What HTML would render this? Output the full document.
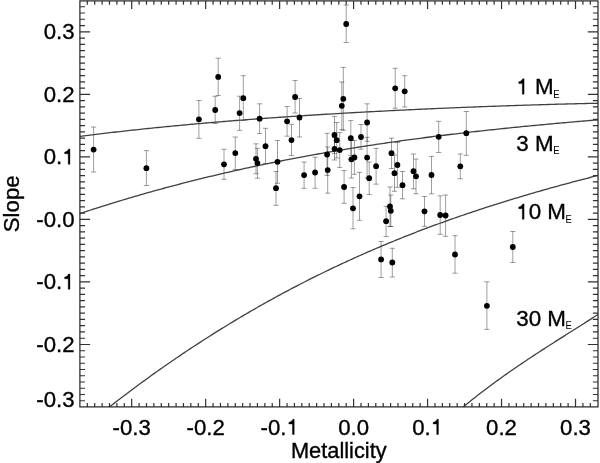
<!DOCTYPE html><html><head><meta charset="utf-8"><style>html,body{margin:0;padding:0;background:#fff;}svg{display:block;will-change:transform;}text{font-family:"Liberation Sans",sans-serif;stroke:#000;stroke-width:0.35px;paint-order:stroke;}</style></head><body>
<svg width="600" height="463" viewBox="0 0 600 463">
<rect width="600" height="463" fill="#fff"/>
<defs><clipPath id="c"><rect x="79.9" y="0.9" width="518.1" height="406.0"/></clipPath></defs>
<path d="M93.6,127.0V172.0M91.0,127.0h5.2M91.0,172.0h5.2" stroke="#000" stroke-opacity="0.38" stroke-width="1.0" fill="none"/>
<path d="M146.4,150.6V185.5M143.8,150.6h5.2M143.8,185.5h5.2" stroke="#000" stroke-opacity="0.38" stroke-width="1.0" fill="none"/>
<path d="M198.9,100.5V138.3M196.3,100.5h5.2M196.3,138.3h5.2" stroke="#000" stroke-opacity="0.38" stroke-width="1.0" fill="none"/>
<path d="M215.2,96.3V123.5M212.6,96.3h5.2M212.6,123.5h5.2" stroke="#000" stroke-opacity="0.38" stroke-width="1.0" fill="none"/>
<path d="M218.2,58.2V95.5M215.6,58.2h5.2M215.6,95.5h5.2" stroke="#000" stroke-opacity="0.38" stroke-width="1.0" fill="none"/>
<path d="M239.6,96.2V130.3M237.0,96.2h5.2M237.0,130.3h5.2" stroke="#000" stroke-opacity="0.38" stroke-width="1.0" fill="none"/>
<path d="M243.3,75.7V120.5M240.7,75.7h5.2M240.7,120.5h5.2" stroke="#000" stroke-opacity="0.38" stroke-width="1.0" fill="none"/>
<path d="M259.6,103.8V133.5M257.0,103.8h5.2M257.0,133.5h5.2" stroke="#000" stroke-opacity="0.38" stroke-width="1.0" fill="none"/>
<path d="M295.1,80.5V113.0M292.5,80.5h5.2M292.5,113.0h5.2" stroke="#000" stroke-opacity="0.38" stroke-width="1.0" fill="none"/>
<path d="M287.1,106.5V136.2M284.5,106.5h5.2M284.5,136.2h5.2" stroke="#000" stroke-opacity="0.38" stroke-width="1.0" fill="none"/>
<path d="M299.5,98.4V137.0M296.9,98.4h5.2M296.9,137.0h5.2" stroke="#000" stroke-opacity="0.38" stroke-width="1.0" fill="none"/>
<path d="M291.5,124.3V155.5M288.9,124.3h5.2M288.9,155.5h5.2" stroke="#000" stroke-opacity="0.38" stroke-width="1.0" fill="none"/>
<path d="M265.5,128.3V163.5M262.9,128.3h5.2M262.9,163.5h5.2" stroke="#000" stroke-opacity="0.38" stroke-width="1.0" fill="none"/>
<path d="M235.3,137.0V169.5M232.7,137.0h5.2M232.7,169.5h5.2" stroke="#000" stroke-opacity="0.38" stroke-width="1.0" fill="none"/>
<path d="M224.0,149.3V179.3M221.4,149.3h5.2M221.4,179.3h5.2" stroke="#000" stroke-opacity="0.38" stroke-width="1.0" fill="none"/>
<path d="M256.0,143.8V173.8M253.4,143.8h5.2M253.4,173.8h5.2" stroke="#000" stroke-opacity="0.38" stroke-width="1.0" fill="none"/>
<path d="M257.4,148.3V178.2M254.8,148.3h5.2M254.8,178.2h5.2" stroke="#000" stroke-opacity="0.38" stroke-width="1.0" fill="none"/>
<path d="M277.5,140.5V183.3M274.9,140.5h5.2M274.9,183.3h5.2" stroke="#000" stroke-opacity="0.38" stroke-width="1.0" fill="none"/>
<path d="M304.1,162.1V188.3M301.5,162.1h5.2M301.5,188.3h5.2" stroke="#000" stroke-opacity="0.38" stroke-width="1.0" fill="none"/>
<path d="M315.1,157.2V188.3M312.5,157.2h5.2M312.5,188.3h5.2" stroke="#000" stroke-opacity="0.38" stroke-width="1.0" fill="none"/>
<path d="M276.0,171.5V205.3M273.4,171.5h5.2M273.4,205.3h5.2" stroke="#000" stroke-opacity="0.38" stroke-width="1.0" fill="none"/>
<path d="M346.2,5.0V42.5M343.6,5.0h5.2M343.6,42.5h5.2" stroke="#000" stroke-opacity="0.38" stroke-width="1.0" fill="none"/>
<path d="M343.3,67.4V130.2M340.7,67.4h5.2M340.7,130.2h5.2" stroke="#000" stroke-opacity="0.38" stroke-width="1.0" fill="none"/>
<path d="M341.8,82.0V129.7M339.2,82.0h5.2M339.2,129.7h5.2" stroke="#000" stroke-opacity="0.38" stroke-width="1.0" fill="none"/>
<path d="M367.1,103.8V141.3M364.5,103.8h5.2M364.5,141.3h5.2" stroke="#000" stroke-opacity="0.38" stroke-width="1.0" fill="none"/>
<path d="M334.5,116.4V153.6M331.9,116.4h5.2M331.9,153.6h5.2" stroke="#000" stroke-opacity="0.38" stroke-width="1.0" fill="none"/>
<path d="M336.7,122.5V158.0M334.1,122.5h5.2M334.1,158.0h5.2" stroke="#000" stroke-opacity="0.38" stroke-width="1.0" fill="none"/>
<path d="M350.8,120.6V155.6M348.2,120.6h5.2M348.2,155.6h5.2" stroke="#000" stroke-opacity="0.38" stroke-width="1.0" fill="none"/>
<path d="M361.0,124.5V149.2M358.4,124.5h5.2M358.4,149.2h5.2" stroke="#000" stroke-opacity="0.38" stroke-width="1.0" fill="none"/>
<path d="M327.1,133.3V175.4M324.5,133.3h5.2M324.5,175.4h5.2" stroke="#000" stroke-opacity="0.38" stroke-width="1.0" fill="none"/>
<path d="M327.7,147.0V193.2M325.1,147.0h5.2M325.1,193.2h5.2" stroke="#000" stroke-opacity="0.38" stroke-width="1.0" fill="none"/>
<path d="M334.5,137.6V160.0M331.9,137.6h5.2M331.9,160.0h5.2" stroke="#000" stroke-opacity="0.38" stroke-width="1.0" fill="none"/>
<path d="M339.7,132.6V167.4M337.1,132.6h5.2M337.1,167.4h5.2" stroke="#000" stroke-opacity="0.38" stroke-width="1.0" fill="none"/>
<path d="M351.4,140.5V178.0M348.8,140.5h5.2M348.8,178.0h5.2" stroke="#000" stroke-opacity="0.38" stroke-width="1.0" fill="none"/>
<path d="M354.4,140.4V174.3M351.8,140.4h5.2M351.8,174.3h5.2" stroke="#000" stroke-opacity="0.38" stroke-width="1.0" fill="none"/>
<path d="M367.1,137.3V178.0M364.5,137.3h5.2M364.5,178.0h5.2" stroke="#000" stroke-opacity="0.38" stroke-width="1.0" fill="none"/>
<path d="M369.2,162.0V194.5M366.6,162.0h5.2M366.6,194.5h5.2" stroke="#000" stroke-opacity="0.38" stroke-width="1.0" fill="none"/>
<path d="M376.1,148.4V184.2M373.5,148.4h5.2M373.5,184.2h5.2" stroke="#000" stroke-opacity="0.38" stroke-width="1.0" fill="none"/>
<path d="M344.1,170.6V203.3M341.5,170.6h5.2M341.5,203.3h5.2" stroke="#000" stroke-opacity="0.38" stroke-width="1.0" fill="none"/>
<path d="M359.5,172.3V220.3M356.9,172.3h5.2M356.9,220.3h5.2" stroke="#000" stroke-opacity="0.38" stroke-width="1.0" fill="none"/>
<path d="M353.0,187.6V228.8M350.4,187.6h5.2M350.4,228.8h5.2" stroke="#000" stroke-opacity="0.38" stroke-width="1.0" fill="none"/>
<path d="M395.2,68.3V108.2M392.6,68.3h5.2M392.6,108.2h5.2" stroke="#000" stroke-opacity="0.38" stroke-width="1.0" fill="none"/>
<path d="M404.7,75.7V107.0M402.1,75.7h5.2M402.1,107.0h5.2" stroke="#000" stroke-opacity="0.38" stroke-width="1.0" fill="none"/>
<path d="M391.5,138.2V168.5M388.9,138.2h5.2M388.9,168.5h5.2" stroke="#000" stroke-opacity="0.38" stroke-width="1.0" fill="none"/>
<path d="M397.4,142.5V187.3M394.8,142.5h5.2M394.8,187.3h5.2" stroke="#000" stroke-opacity="0.38" stroke-width="1.0" fill="none"/>
<path d="M394.5,155.0V191.3M391.9,155.0h5.2M391.9,191.3h5.2" stroke="#000" stroke-opacity="0.38" stroke-width="1.0" fill="none"/>
<path d="M413.5,154.0V188.8M410.9,154.0h5.2M410.9,188.8h5.2" stroke="#000" stroke-opacity="0.38" stroke-width="1.0" fill="none"/>
<path d="M416.0,159.0V193.8M413.4,159.0h5.2M413.4,193.8h5.2" stroke="#000" stroke-opacity="0.38" stroke-width="1.0" fill="none"/>
<path d="M431.5,156.4V193.8M428.9,156.4h5.2M428.9,193.8h5.2" stroke="#000" stroke-opacity="0.38" stroke-width="1.0" fill="none"/>
<path d="M402.5,171.5V198.8M399.9,171.5h5.2M399.9,198.8h5.2" stroke="#000" stroke-opacity="0.38" stroke-width="1.0" fill="none"/>
<path d="M390.0,187.0V226.5M387.4,187.0h5.2M387.4,226.5h5.2" stroke="#000" stroke-opacity="0.38" stroke-width="1.0" fill="none"/>
<path d="M390.8,195.0V226.5M388.2,195.0h5.2M388.2,226.5h5.2" stroke="#000" stroke-opacity="0.38" stroke-width="1.0" fill="none"/>
<path d="M386.1,206.3V236.5M383.5,206.3h5.2M383.5,236.5h5.2" stroke="#000" stroke-opacity="0.38" stroke-width="1.0" fill="none"/>
<path d="M424.5,196.5V226.3M421.9,196.5h5.2M421.9,226.3h5.2" stroke="#000" stroke-opacity="0.38" stroke-width="1.0" fill="none"/>
<path d="M381.1,241.5V277.5M378.5,241.5h5.2M378.5,277.5h5.2" stroke="#000" stroke-opacity="0.38" stroke-width="1.0" fill="none"/>
<path d="M392.3,248.3V277.0M389.7,248.3h5.2M389.7,277.0h5.2" stroke="#000" stroke-opacity="0.38" stroke-width="1.0" fill="none"/>
<path d="M438.7,121.3V152.5M436.1,121.3h5.2M436.1,152.5h5.2" stroke="#000" stroke-opacity="0.38" stroke-width="1.0" fill="none"/>
<path d="M466.3,111.5V155.3M463.7,111.5h5.2M463.7,155.3h5.2" stroke="#000" stroke-opacity="0.38" stroke-width="1.0" fill="none"/>
<path d="M460.3,154.0V178.8M457.7,154.0h5.2M457.7,178.8h5.2" stroke="#000" stroke-opacity="0.38" stroke-width="1.0" fill="none"/>
<path d="M440.2,195.8V234.3M437.6,195.8h5.2M437.6,234.3h5.2" stroke="#000" stroke-opacity="0.38" stroke-width="1.0" fill="none"/>
<path d="M445.6,195.0V236.3M443.0,195.0h5.2M443.0,236.3h5.2" stroke="#000" stroke-opacity="0.38" stroke-width="1.0" fill="none"/>
<path d="M455.0,235.7V273.2M452.4,235.7h5.2M452.4,273.2h5.2" stroke="#000" stroke-opacity="0.38" stroke-width="1.0" fill="none"/>
<path d="M486.9,281.8V329.4M484.3,281.8h5.2M484.3,329.4h5.2" stroke="#000" stroke-opacity="0.38" stroke-width="1.0" fill="none"/>
<path d="M512.8,231.5V262.5M510.2,231.5h5.2M510.2,262.5h5.2" stroke="#000" stroke-opacity="0.38" stroke-width="1.0" fill="none"/>
<path d="M70.00,137.69 L72.00,137.42 L74.00,137.16 L76.00,136.90 L78.00,136.64 L80.00,136.38 L82.00,136.12 L84.00,135.87 L86.00,135.62 L88.00,135.36 L90.00,135.11 L92.00,134.87 L94.00,134.62 L96.00,134.37 L98.00,134.13 L100.00,133.89 L102.00,133.65 L104.00,133.41 L106.00,133.17 L108.00,132.94 L110.00,132.70 L112.00,132.47 L114.00,132.24 L116.00,132.01 L118.00,131.78 L120.00,131.55 L122.00,131.32 L124.00,131.10 L126.00,130.88 L128.00,130.65 L130.00,130.43 L132.00,130.22 L134.00,130.00 L136.00,129.78 L138.00,129.57 L140.00,129.35 L142.00,129.14 L144.00,128.93 L146.00,128.72 L148.00,128.51 L150.00,128.31 L152.00,128.10 L154.00,127.90 L156.00,127.69 L158.00,127.49 L160.00,127.29 L162.00,127.09 L164.00,126.89 L166.00,126.70 L168.00,126.50 L170.00,126.31 L172.00,126.11 L174.00,125.92 L176.00,125.73 L178.00,125.54 L180.00,125.35 L182.00,125.17 L184.00,124.98 L186.00,124.80 L188.00,124.61 L190.00,124.43 L192.00,124.25 L194.00,124.07 L196.00,123.89 L198.00,123.71 L200.00,123.53 L202.00,123.36 L204.00,123.18 L206.00,123.01 L208.00,122.83 L210.00,122.66 L212.00,122.49 L214.00,122.32 L216.00,122.15 L218.00,121.99 L220.00,121.82 L222.00,121.65 L224.00,121.49 L226.00,121.32 L228.00,121.16 L230.00,121.00 L232.00,120.84 L234.00,120.68 L236.00,120.52 L238.00,120.36 L240.00,120.21 L242.00,120.05 L244.00,119.89 L246.00,119.74 L248.00,119.59 L250.00,119.44 L252.00,119.28 L254.00,119.13 L256.00,118.98 L258.00,118.84 L260.00,118.69 L262.00,118.54 L264.00,118.39 L266.00,118.25 L268.00,118.10 L270.00,117.96 L272.00,117.82 L274.00,117.68 L276.00,117.54 L278.00,117.40 L280.00,117.26 L282.00,117.12 L284.00,116.98 L286.00,116.84 L288.00,116.71 L290.00,116.57 L292.00,116.44 L294.00,116.30 L296.00,116.17 L298.00,116.04 L300.00,115.91 L302.00,115.78 L304.00,115.65 L306.00,115.52 L308.00,115.39 L310.00,115.26 L312.00,115.13 L314.00,115.01 L316.00,114.88 L318.00,114.76 L320.00,114.63 L322.00,114.51 L324.00,114.39 L326.00,114.27 L328.00,114.15 L330.00,114.03 L332.00,113.91 L334.00,113.79 L336.00,113.67 L338.00,113.55 L340.00,113.43 L342.00,113.32 L344.00,113.20 L346.00,113.09 L348.00,112.97 L350.00,112.86 L352.00,112.75 L354.00,112.63 L356.00,112.52 L358.00,112.41 L360.00,112.30 L362.00,112.19 L364.00,112.08 L366.00,111.97 L368.00,111.87 L370.00,111.76 L372.00,111.65 L374.00,111.55 L376.00,111.44 L378.00,111.34 L380.00,111.23 L382.00,111.13 L384.00,111.03 L386.00,110.92 L388.00,110.82 L390.00,110.72 L392.00,110.62 L394.00,110.52 L396.00,110.42 L398.00,110.32 L400.00,110.22 L402.00,110.13 L404.00,110.03 L406.00,109.93 L408.00,109.84 L410.00,109.74 L412.00,109.65 L414.00,109.55 L416.00,109.46 L418.00,109.37 L420.00,109.27 L422.00,109.18 L424.00,109.09 L426.00,109.00 L428.00,108.91 L430.00,108.82 L432.00,108.73 L434.00,108.64 L436.00,108.56 L438.00,108.47 L440.00,108.38 L442.00,108.30 L444.00,108.21 L446.00,108.12 L448.00,108.04 L450.00,107.96 L452.00,107.87 L454.00,107.79 L456.00,107.71 L458.00,107.63 L460.00,107.54 L462.00,107.46 L464.00,107.38 L466.00,107.30 L468.00,107.22 L470.00,107.15 L472.00,107.07 L474.00,106.99 L476.00,106.91 L478.00,106.84 L480.00,106.76 L482.00,106.68 L484.00,106.61 L486.00,106.54 L488.00,106.46 L490.00,106.39 L492.00,106.32 L494.00,106.24 L496.00,106.17 L498.00,106.10 L500.00,106.03 L502.00,105.96 L504.00,105.89 L506.00,105.82 L508.00,105.75 L510.00,105.68 L512.00,105.62 L514.00,105.55 L516.00,105.48 L518.00,105.42 L520.00,105.35 L522.00,105.29 L524.00,105.22 L526.00,105.16 L528.00,105.10 L530.00,105.04 L532.00,104.97 L534.00,104.91 L536.00,104.85 L538.00,104.79 L540.00,104.73 L542.00,104.67 L544.00,104.61 L546.00,104.56 L548.00,104.50 L550.00,104.44 L552.00,104.38 L554.00,104.33 L556.00,104.27 L558.00,104.22 L560.00,104.17 L562.00,104.11 L564.00,104.06 L566.00,104.01 L568.00,103.95 L570.00,103.90 L572.00,103.85 L574.00,103.80 L576.00,103.75 L578.00,103.70 L580.00,103.66 L582.00,103.61 L584.00,103.56 L586.00,103.52 L588.00,103.47 L590.00,103.42 L592.00,103.38 L594.00,103.34 L596.00,103.29 L598.00,103.25 L600.00,103.21" stroke="#404040" stroke-width="1.3" fill="none" clip-path="url(#c)"/>
<path d="M70.00,216.89 L72.00,216.21 L74.00,215.54 L76.00,214.86 L78.00,214.20 L80.00,213.53 L82.00,212.87 L84.00,212.21 L86.00,211.55 L88.00,210.90 L90.00,210.25 L92.00,209.60 L94.00,208.96 L96.00,208.31 L98.00,207.68 L100.00,207.04 L102.00,206.41 L104.00,205.78 L106.00,205.15 L108.00,204.53 L110.00,203.91 L112.00,203.29 L114.00,202.68 L116.00,202.07 L118.00,201.46 L120.00,200.85 L122.00,200.25 L124.00,199.65 L126.00,199.05 L128.00,198.46 L130.00,197.87 L132.00,197.28 L134.00,196.69 L136.00,196.11 L138.00,195.53 L140.00,194.95 L142.00,194.38 L144.00,193.81 L146.00,193.24 L148.00,192.67 L150.00,192.11 L152.00,191.55 L154.00,190.99 L156.00,190.44 L158.00,189.89 L160.00,189.34 L162.00,188.79 L164.00,188.25 L166.00,187.71 L168.00,187.17 L170.00,186.63 L172.00,186.10 L174.00,185.57 L176.00,185.04 L178.00,184.52 L180.00,184.00 L182.00,183.48 L184.00,182.96 L186.00,182.45 L188.00,181.94 L190.00,181.43 L192.00,180.92 L194.00,180.42 L196.00,179.92 L198.00,179.42 L200.00,178.93 L202.00,178.43 L204.00,177.94 L206.00,177.46 L208.00,176.97 L210.00,176.49 L212.00,176.01 L214.00,175.53 L216.00,175.06 L218.00,174.58 L220.00,174.11 L222.00,173.65 L224.00,173.18 L226.00,172.72 L228.00,172.26 L230.00,171.80 L232.00,171.35 L234.00,170.90 L236.00,170.45 L238.00,170.00 L240.00,169.55 L242.00,169.11 L244.00,168.67 L246.00,168.23 L248.00,167.80 L250.00,167.36 L252.00,166.93 L254.00,166.50 L256.00,166.08 L258.00,165.65 L260.00,165.23 L262.00,164.81 L264.00,164.40 L266.00,163.98 L268.00,163.57 L270.00,163.16 L272.00,162.75 L274.00,162.35 L276.00,161.94 L278.00,161.54 L280.00,161.15 L282.00,160.75 L284.00,160.36 L286.00,159.96 L288.00,159.57 L290.00,159.19 L292.00,158.80 L294.00,158.42 L296.00,158.04 L298.00,157.66 L300.00,157.28 L302.00,156.91 L304.00,156.54 L306.00,156.17 L308.00,155.80 L310.00,155.43 L312.00,155.07 L314.00,154.71 L316.00,154.35 L318.00,153.99 L320.00,153.63 L322.00,153.28 L324.00,152.93 L326.00,152.58 L328.00,152.23 L330.00,151.89 L332.00,151.55 L334.00,151.20 L336.00,150.86 L338.00,150.53 L340.00,150.19 L342.00,149.86 L344.00,149.53 L346.00,149.20 L348.00,148.87 L350.00,148.55 L352.00,148.22 L354.00,147.90 L356.00,147.58 L358.00,147.26 L360.00,146.95 L362.00,146.63 L364.00,146.32 L366.00,146.01 L368.00,145.70 L370.00,145.39 L372.00,145.09 L374.00,144.79 L376.00,144.48 L378.00,144.18 L380.00,143.89 L382.00,143.59 L384.00,143.30 L386.00,143.00 L388.00,142.71 L390.00,142.42 L392.00,142.14 L394.00,141.85 L396.00,141.57 L398.00,141.28 L400.00,141.00 L402.00,140.73 L404.00,140.45 L406.00,140.17 L408.00,139.90 L410.00,139.63 L412.00,139.36 L414.00,139.09 L416.00,138.82 L418.00,138.55 L420.00,138.29 L422.00,138.03 L424.00,137.76 L426.00,137.51 L428.00,137.25 L430.00,136.99 L432.00,136.74 L434.00,136.48 L436.00,136.23 L438.00,135.98 L440.00,135.73 L442.00,135.48 L444.00,135.24 L446.00,134.99 L448.00,134.75 L450.00,134.51 L452.00,134.27 L454.00,134.03 L456.00,133.79 L458.00,133.55 L460.00,133.32 L462.00,133.09 L464.00,132.85 L466.00,132.62 L468.00,132.39 L470.00,132.16 L472.00,131.94 L474.00,131.71 L476.00,131.49 L478.00,131.26 L480.00,131.04 L482.00,130.82 L484.00,130.60 L486.00,130.39 L488.00,130.17 L490.00,129.95 L492.00,129.74 L494.00,129.53 L496.00,129.31 L498.00,129.10 L500.00,128.89 L502.00,128.69 L504.00,128.48 L506.00,128.27 L508.00,128.07 L510.00,127.86 L512.00,127.66 L514.00,127.46 L516.00,127.26 L518.00,127.06 L520.00,126.86 L522.00,126.66 L524.00,126.47 L526.00,126.27 L528.00,126.08 L530.00,125.88 L532.00,125.69 L534.00,125.50 L536.00,125.31 L538.00,125.12 L540.00,124.93 L542.00,124.74 L544.00,124.56 L546.00,124.37 L548.00,124.19 L550.00,124.00 L552.00,123.82 L554.00,123.64 L556.00,123.45 L558.00,123.27 L560.00,123.09 L562.00,122.92 L564.00,122.74 L566.00,122.56 L568.00,122.38 L570.00,122.21 L572.00,122.03 L574.00,121.86 L576.00,121.69 L578.00,121.51 L580.00,121.34 L582.00,121.17 L584.00,121.00 L586.00,120.83 L588.00,120.66 L590.00,120.49 L592.00,120.32 L594.00,120.16 L596.00,119.99 L598.00,119.82 L600.00,119.66" stroke="#404040" stroke-width="1.3" fill="none" clip-path="url(#c)"/>
<path d="M70.00,438.76 L72.00,437.09 L74.00,435.43 L76.00,433.76 L78.00,432.11 L80.00,430.46 L82.00,428.82 L84.00,427.18 L86.00,425.55 L88.00,423.93 L90.00,422.31 L92.00,420.70 L94.00,419.09 L96.00,417.49 L98.00,415.90 L100.00,414.31 L102.00,412.73 L104.00,411.15 L106.00,409.58 L108.00,408.01 L110.00,406.46 L112.00,404.90 L114.00,403.36 L116.00,401.82 L118.00,400.28 L120.00,398.75 L122.00,397.23 L124.00,395.71 L126.00,394.20 L128.00,392.69 L130.00,391.19 L132.00,389.70 L134.00,388.21 L136.00,386.73 L138.00,385.25 L140.00,383.78 L142.00,382.32 L144.00,380.86 L146.00,379.41 L148.00,377.96 L150.00,376.52 L152.00,375.08 L154.00,373.65 L156.00,372.23 L158.00,370.81 L160.00,369.40 L162.00,367.99 L164.00,366.59 L166.00,365.20 L168.00,363.81 L170.00,362.42 L172.00,361.04 L174.00,359.67 L176.00,358.31 L178.00,356.94 L180.00,355.59 L182.00,354.24 L184.00,352.90 L186.00,351.56 L188.00,350.22 L190.00,348.90 L192.00,347.58 L194.00,346.26 L196.00,344.95 L198.00,343.65 L200.00,342.35 L202.00,341.05 L204.00,339.77 L206.00,338.48 L208.00,337.21 L210.00,335.94 L212.00,334.67 L214.00,333.41 L216.00,332.16 L218.00,330.91 L220.00,329.66 L222.00,328.42 L224.00,327.19 L226.00,325.96 L228.00,324.74 L230.00,323.53 L232.00,322.32 L234.00,321.11 L236.00,319.91 L238.00,318.72 L240.00,317.53 L242.00,316.34 L244.00,315.16 L246.00,313.99 L248.00,312.82 L250.00,311.66 L252.00,310.50 L254.00,309.35 L256.00,308.20 L258.00,307.06 L260.00,305.92 L262.00,304.79 L264.00,303.67 L266.00,302.55 L268.00,301.43 L270.00,300.32 L272.00,299.22 L274.00,298.12 L276.00,297.02 L278.00,295.93 L280.00,294.85 L282.00,293.77 L284.00,292.69 L286.00,291.62 L288.00,290.56 L290.00,289.50 L292.00,288.45 L294.00,287.40 L296.00,286.35 L298.00,285.31 L300.00,284.28 L302.00,283.25 L304.00,282.22 L306.00,281.21 L308.00,280.19 L310.00,279.18 L312.00,278.18 L314.00,277.18 L316.00,276.18 L318.00,275.19 L320.00,274.21 L322.00,273.23 L324.00,272.25 L326.00,271.28 L328.00,270.31 L330.00,269.35 L332.00,268.39 L334.00,267.44 L336.00,266.50 L338.00,265.55 L340.00,264.61 L342.00,263.68 L344.00,262.75 L346.00,261.83 L348.00,260.91 L350.00,259.99 L352.00,259.08 L354.00,258.18 L356.00,257.28 L358.00,256.38 L360.00,255.49 L362.00,254.60 L364.00,253.72 L366.00,252.84 L368.00,251.96 L370.00,251.09 L372.00,250.23 L374.00,249.36 L376.00,248.51 L378.00,247.66 L380.00,246.81 L382.00,245.96 L384.00,245.12 L386.00,244.29 L388.00,243.46 L390.00,242.63 L392.00,241.81 L394.00,240.99 L396.00,240.17 L398.00,239.36 L400.00,238.55 L402.00,237.75 L404.00,236.95 L406.00,236.16 L408.00,235.37 L410.00,234.58 L412.00,233.80 L414.00,233.02 L416.00,232.25 L418.00,231.48 L420.00,230.71 L422.00,229.95 L424.00,229.19 L426.00,228.44 L428.00,227.69 L430.00,226.94 L432.00,226.20 L434.00,225.46 L436.00,224.72 L438.00,223.99 L440.00,223.26 L442.00,222.54 L444.00,221.81 L446.00,221.10 L448.00,220.38 L450.00,219.67 L452.00,218.97 L454.00,218.26 L456.00,217.56 L458.00,216.87 L460.00,216.18 L462.00,215.49 L464.00,214.80 L466.00,214.12 L468.00,213.44 L470.00,212.77 L472.00,212.09 L474.00,211.42 L476.00,210.76 L478.00,210.10 L480.00,209.44 L482.00,208.78 L484.00,208.13 L486.00,207.48 L488.00,206.84 L490.00,206.19 L492.00,205.55 L494.00,204.92 L496.00,204.28 L498.00,203.65 L500.00,203.02 L502.00,202.40 L504.00,201.78 L506.00,201.16 L508.00,200.54 L510.00,199.93 L512.00,199.32 L514.00,198.71 L516.00,198.11 L518.00,197.51 L520.00,196.91 L522.00,196.31 L524.00,195.72 L526.00,195.13 L528.00,194.54 L530.00,193.96 L532.00,193.37 L534.00,192.79 L536.00,192.22 L538.00,191.64 L540.00,191.07 L542.00,190.50 L544.00,189.93 L546.00,189.37 L548.00,188.80 L550.00,188.24 L552.00,187.69 L554.00,187.13 L556.00,186.58 L558.00,186.03 L560.00,185.48 L562.00,184.93 L564.00,184.39 L566.00,183.84 L568.00,183.30 L570.00,182.77 L572.00,182.23 L574.00,181.70 L576.00,181.16 L578.00,180.64 L580.00,180.11 L582.00,179.58 L584.00,179.06 L586.00,178.54 L588.00,178.02 L590.00,177.50 L592.00,176.98 L594.00,176.47 L596.00,175.95 L598.00,175.44 L600.00,174.93" stroke="#404040" stroke-width="1.3" fill="none" clip-path="url(#c)"/>
<path d="M70.00,1334.17 L72.00,1324.76 L74.00,1315.42 L76.00,1306.15 L78.00,1296.94 L80.00,1287.79 L82.00,1278.71 L84.00,1269.69 L86.00,1260.74 L88.00,1251.84 L90.00,1243.01 L92.00,1234.25 L94.00,1225.54 L96.00,1216.89 L98.00,1208.31 L100.00,1199.79 L102.00,1191.33 L104.00,1182.93 L106.00,1174.59 L108.00,1166.31 L110.00,1158.09 L112.00,1149.93 L114.00,1141.83 L116.00,1133.79 L118.00,1125.81 L120.00,1117.89 L122.00,1110.03 L124.00,1102.22 L126.00,1094.47 L128.00,1086.78 L130.00,1079.15 L132.00,1071.57 L134.00,1064.05 L136.00,1056.59 L138.00,1049.19 L140.00,1041.84 L142.00,1034.54 L144.00,1027.30 L146.00,1020.12 L148.00,1012.99 L150.00,1005.92 L152.00,998.90 L154.00,991.94 L156.00,985.03 L158.00,978.17 L160.00,971.37 L162.00,964.62 L164.00,957.92 L166.00,951.28 L168.00,944.69 L170.00,938.15 L172.00,931.66 L174.00,925.23 L176.00,918.85 L178.00,912.51 L180.00,906.23 L182.00,900.00 L184.00,893.82 L186.00,887.69 L188.00,881.61 L190.00,875.58 L192.00,869.60 L194.00,863.67 L196.00,857.79 L198.00,851.95 L200.00,846.17 L202.00,840.43 L204.00,834.74 L206.00,829.10 L208.00,823.51 L210.00,817.96 L212.00,812.46 L214.00,807.00 L216.00,801.60 L218.00,796.23 L220.00,790.92 L222.00,785.65 L224.00,780.42 L226.00,775.24 L228.00,770.11 L230.00,765.02 L232.00,759.97 L234.00,754.97 L236.00,750.01 L238.00,745.10 L240.00,740.23 L242.00,735.40 L244.00,730.61 L246.00,725.87 L248.00,721.17 L250.00,716.51 L252.00,711.89 L254.00,707.32 L256.00,702.78 L258.00,698.29 L260.00,693.83 L262.00,689.42 L264.00,685.05 L266.00,680.72 L268.00,676.42 L270.00,672.17 L272.00,667.95 L274.00,663.78 L276.00,659.64 L278.00,655.54 L280.00,651.48 L282.00,647.46 L284.00,643.47 L286.00,639.53 L288.00,635.62 L290.00,631.74 L292.00,627.90 L294.00,624.10 L296.00,620.34 L298.00,616.61 L300.00,612.92 L302.00,609.26 L304.00,605.63 L306.00,602.04 L308.00,598.49 L310.00,594.97 L312.00,591.48 L314.00,588.03 L316.00,584.61 L318.00,581.23 L320.00,577.87 L322.00,574.55 L324.00,571.27 L326.00,568.01 L328.00,564.79 L330.00,561.60 L332.00,558.43 L334.00,555.31 L336.00,552.21 L338.00,549.14 L340.00,546.10 L342.00,543.09 L344.00,540.12 L346.00,537.17 L348.00,534.25 L350.00,531.36 L352.00,528.50 L354.00,525.67 L356.00,522.86 L358.00,520.09 L360.00,517.34 L362.00,514.62 L364.00,511.93 L366.00,509.26 L368.00,506.62 L370.00,504.01 L372.00,501.42 L374.00,498.86 L376.00,496.32 L378.00,493.81 L380.00,491.33 L382.00,488.87 L384.00,486.44 L386.00,484.03 L388.00,481.64 L390.00,479.28 L392.00,476.94 L394.00,474.62 L396.00,472.33 L398.00,470.06 L400.00,467.82 L402.00,465.59 L404.00,463.39 L406.00,461.21 L408.00,459.05 L410.00,456.92 L412.00,454.80 L414.00,452.70 L416.00,450.63 L418.00,448.58 L420.00,446.54 L422.00,444.53 L424.00,442.53 L426.00,440.56 L428.00,438.60 L430.00,436.66 L432.00,434.74 L434.00,432.84 L436.00,430.96 L438.00,429.09 L440.00,427.24 L442.00,425.41 L444.00,423.60 L446.00,421.80 L448.00,420.02 L450.00,418.26 L452.00,416.51 L454.00,414.78 L456.00,413.06 L458.00,411.36 L460.00,409.67 L462.00,408.00 L464.00,406.34 L466.00,404.70 L468.00,403.07 L470.00,401.45 L472.00,399.85 L474.00,398.26 L476.00,396.68 L478.00,395.11 L480.00,393.56 L482.00,392.02 L484.00,390.49 L486.00,388.98 L488.00,387.47 L490.00,385.98 L492.00,384.49 L494.00,383.02 L496.00,381.56 L498.00,380.10 L500.00,378.66 L502.00,377.23 L504.00,375.80 L506.00,374.39 L508.00,372.98 L510.00,371.58 L512.00,370.19 L514.00,368.81 L516.00,367.43 L518.00,366.07 L520.00,364.71 L522.00,363.35 L524.00,362.01 L526.00,360.67 L528.00,359.33 L530.00,358.00 L532.00,356.68 L534.00,355.37 L536.00,354.05 L538.00,352.75 L540.00,351.44 L542.00,350.15 L544.00,348.85 L546.00,347.56 L548.00,346.27 L550.00,344.99 L552.00,343.71 L554.00,342.43 L556.00,341.16 L558.00,339.89 L560.00,338.62 L562.00,337.35 L564.00,336.08 L566.00,334.81 L568.00,333.55 L570.00,332.28 L572.00,331.02 L574.00,329.76 L576.00,328.49 L578.00,327.23 L580.00,325.96 L582.00,324.70 L584.00,323.43 L586.00,322.16 L588.00,320.89 L590.00,319.62 L592.00,318.35 L594.00,317.07 L596.00,315.79 L598.00,314.51 L600.00,313.23" stroke="#404040" stroke-width="1.3" fill="none" clip-path="url(#c)"/>
<circle cx="93.6" cy="149.6" r="2.9" fill="#000"/>
<circle cx="146.4" cy="168.2" r="2.9" fill="#000"/>
<circle cx="198.9" cy="119.3" r="2.9" fill="#000"/>
<circle cx="215.2" cy="110.0" r="2.9" fill="#000"/>
<circle cx="218.2" cy="76.9" r="2.9" fill="#000"/>
<circle cx="239.6" cy="113.1" r="2.9" fill="#000"/>
<circle cx="243.3" cy="98.2" r="2.9" fill="#000"/>
<circle cx="259.6" cy="118.7" r="2.9" fill="#000"/>
<circle cx="295.1" cy="97.0" r="2.9" fill="#000"/>
<circle cx="287.1" cy="121.3" r="2.9" fill="#000"/>
<circle cx="299.5" cy="117.5" r="2.9" fill="#000"/>
<circle cx="291.5" cy="140.1" r="2.9" fill="#000"/>
<circle cx="265.5" cy="146.2" r="2.9" fill="#000"/>
<circle cx="235.3" cy="153.1" r="2.9" fill="#000"/>
<circle cx="224.0" cy="164.3" r="2.9" fill="#000"/>
<circle cx="256.0" cy="158.8" r="2.9" fill="#000"/>
<circle cx="257.4" cy="163.1" r="2.9" fill="#000"/>
<circle cx="277.5" cy="161.8" r="2.9" fill="#000"/>
<circle cx="304.1" cy="175.1" r="2.9" fill="#000"/>
<circle cx="315.1" cy="172.5" r="2.9" fill="#000"/>
<circle cx="276.0" cy="188.2" r="2.9" fill="#000"/>
<circle cx="346.2" cy="24.0" r="2.9" fill="#000"/>
<circle cx="343.3" cy="98.8" r="2.9" fill="#000"/>
<circle cx="341.8" cy="105.8" r="2.9" fill="#000"/>
<circle cx="367.1" cy="122.5" r="2.9" fill="#000"/>
<circle cx="334.5" cy="135.0" r="2.9" fill="#000"/>
<circle cx="336.7" cy="140.2" r="2.9" fill="#000"/>
<circle cx="350.8" cy="138.2" r="2.9" fill="#000"/>
<circle cx="361.0" cy="137.0" r="2.9" fill="#000"/>
<circle cx="327.1" cy="154.5" r="2.9" fill="#000"/>
<circle cx="327.7" cy="170.1" r="2.9" fill="#000"/>
<circle cx="334.5" cy="148.8" r="2.9" fill="#000"/>
<circle cx="339.7" cy="150.1" r="2.9" fill="#000"/>
<circle cx="351.4" cy="159.3" r="2.9" fill="#000"/>
<circle cx="354.4" cy="157.4" r="2.9" fill="#000"/>
<circle cx="367.1" cy="157.6" r="2.9" fill="#000"/>
<circle cx="369.2" cy="178.2" r="2.9" fill="#000"/>
<circle cx="376.1" cy="166.2" r="2.9" fill="#000"/>
<circle cx="344.1" cy="187.0" r="2.9" fill="#000"/>
<circle cx="359.5" cy="196.3" r="2.9" fill="#000"/>
<circle cx="353.0" cy="208.3" r="2.9" fill="#000"/>
<circle cx="395.2" cy="88.3" r="2.9" fill="#000"/>
<circle cx="404.7" cy="91.3" r="2.9" fill="#000"/>
<circle cx="391.5" cy="153.2" r="2.9" fill="#000"/>
<circle cx="397.4" cy="165.0" r="2.9" fill="#000"/>
<circle cx="394.5" cy="173.2" r="2.9" fill="#000"/>
<circle cx="413.5" cy="171.2" r="2.9" fill="#000"/>
<circle cx="416.0" cy="176.3" r="2.9" fill="#000"/>
<circle cx="431.5" cy="175.0" r="2.9" fill="#000"/>
<circle cx="402.5" cy="185.2" r="2.9" fill="#000"/>
<circle cx="390.0" cy="206.5" r="2.9" fill="#000"/>
<circle cx="390.8" cy="210.8" r="2.9" fill="#000"/>
<circle cx="386.1" cy="221.2" r="2.9" fill="#000"/>
<circle cx="424.5" cy="211.3" r="2.9" fill="#000"/>
<circle cx="381.1" cy="259.4" r="2.9" fill="#000"/>
<circle cx="392.3" cy="262.5" r="2.9" fill="#000"/>
<circle cx="438.7" cy="136.8" r="2.9" fill="#000"/>
<circle cx="466.3" cy="133.2" r="2.9" fill="#000"/>
<circle cx="460.3" cy="166.3" r="2.9" fill="#000"/>
<circle cx="440.2" cy="215.0" r="2.9" fill="#000"/>
<circle cx="445.6" cy="215.5" r="2.9" fill="#000"/>
<circle cx="455.0" cy="254.5" r="2.9" fill="#000"/>
<circle cx="486.9" cy="305.8" r="2.9" fill="#000"/>
<circle cx="512.8" cy="247.0" r="2.9" fill="#000"/>
<path d="M87.31,406.90v-3.9M87.31,0.90v3.9M94.71,406.90v-3.9M94.71,0.90v3.9M102.10,406.90v-3.9M102.10,0.90v3.9M109.50,406.90v-3.9M109.50,0.90v3.9M116.90,406.90v-3.9M116.90,0.90v3.9M124.29,406.90v-3.9M124.29,0.90v3.9M131.69,406.90v-8.2M131.69,0.90v8.2M139.09,406.90v-3.9M139.09,0.90v3.9M146.48,406.90v-3.9M146.48,0.90v3.9M153.88,406.90v-3.9M153.88,0.90v3.9M161.28,406.90v-3.9M161.28,0.90v3.9M168.68,406.90v-3.9M168.68,0.90v3.9M176.07,406.90v-3.9M176.07,0.90v3.9M183.47,406.90v-3.9M183.47,0.90v3.9M190.87,406.90v-3.9M190.87,0.90v3.9M198.26,406.90v-3.9M198.26,0.90v3.9M205.66,406.90v-8.2M205.66,0.90v8.2M213.06,406.90v-3.9M213.06,0.90v3.9M220.45,406.90v-3.9M220.45,0.90v3.9M227.85,406.90v-3.9M227.85,0.90v3.9M235.25,406.90v-3.9M235.25,0.90v3.9M242.65,406.90v-3.9M242.65,0.90v3.9M250.04,406.90v-3.9M250.04,0.90v3.9M257.44,406.90v-3.9M257.44,0.90v3.9M264.84,406.90v-3.9M264.84,0.90v3.9M272.23,406.90v-3.9M272.23,0.90v3.9M279.63,406.90v-8.2M279.63,0.90v8.2M287.03,406.90v-3.9M287.03,0.90v3.9M294.42,406.90v-3.9M294.42,0.90v3.9M301.82,406.90v-3.9M301.82,0.90v3.9M309.22,406.90v-3.9M309.22,0.90v3.9M316.62,406.90v-3.9M316.62,0.90v3.9M324.01,406.90v-3.9M324.01,0.90v3.9M331.41,406.90v-3.9M331.41,0.90v3.9M338.81,406.90v-3.9M338.81,0.90v3.9M346.20,406.90v-3.9M346.20,0.90v3.9M353.60,406.90v-8.2M353.60,0.90v8.2M361.00,406.90v-3.9M361.00,0.90v3.9M368.39,406.90v-3.9M368.39,0.90v3.9M375.79,406.90v-3.9M375.79,0.90v3.9M383.19,406.90v-3.9M383.19,0.90v3.9M390.59,406.90v-3.9M390.59,0.90v3.9M397.98,406.90v-3.9M397.98,0.90v3.9M405.38,406.90v-3.9M405.38,0.90v3.9M412.78,406.90v-3.9M412.78,0.90v3.9M420.17,406.90v-3.9M420.17,0.90v3.9M427.57,406.90v-8.2M427.57,0.90v8.2M434.97,406.90v-3.9M434.97,0.90v3.9M442.36,406.90v-3.9M442.36,0.90v3.9M449.76,406.90v-3.9M449.76,0.90v3.9M457.16,406.90v-3.9M457.16,0.90v3.9M464.56,406.90v-3.9M464.56,0.90v3.9M471.95,406.90v-3.9M471.95,0.90v3.9M479.35,406.90v-3.9M479.35,0.90v3.9M486.75,406.90v-3.9M486.75,0.90v3.9M494.14,406.90v-3.9M494.14,0.90v3.9M501.54,406.90v-8.2M501.54,0.90v8.2M508.94,406.90v-3.9M508.94,0.90v3.9M516.33,406.90v-3.9M516.33,0.90v3.9M523.73,406.90v-3.9M523.73,0.90v3.9M531.13,406.90v-3.9M531.13,0.90v3.9M538.53,406.90v-3.9M538.53,0.90v3.9M545.92,406.90v-3.9M545.92,0.90v3.9M553.32,406.90v-3.9M553.32,0.90v3.9M560.72,406.90v-3.9M560.72,0.90v3.9M568.11,406.90v-3.9M568.11,0.90v3.9M575.51,406.90v-8.2M575.51,0.90v8.2M582.91,406.90v-3.9M582.91,0.90v3.9M590.30,406.90v-3.9M590.30,0.90v3.9M79.90,400.77h5.1M598.00,400.77h-5.1M79.90,394.51h5.1M598.00,394.51h-5.1M79.90,388.26h5.1M598.00,388.26h-5.1M79.90,382.00h5.1M598.00,382.00h-5.1M79.90,375.75h5.1M598.00,375.75h-5.1M79.90,369.50h5.1M598.00,369.50h-5.1M79.90,363.24h5.1M598.00,363.24h-5.1M79.90,356.99h5.1M598.00,356.99h-5.1M79.90,350.73h5.1M598.00,350.73h-5.1M79.90,344.48h10.2M598.00,344.48h-10.2M79.90,338.23h5.1M598.00,338.23h-5.1M79.90,331.97h5.1M598.00,331.97h-5.1M79.90,325.72h5.1M598.00,325.72h-5.1M79.90,319.46h5.1M598.00,319.46h-5.1M79.90,313.21h5.1M598.00,313.21h-5.1M79.90,306.96h5.1M598.00,306.96h-5.1M79.90,300.70h5.1M598.00,300.70h-5.1M79.90,294.45h5.1M598.00,294.45h-5.1M79.90,288.19h5.1M598.00,288.19h-5.1M79.90,281.94h10.2M598.00,281.94h-10.2M79.90,275.69h5.1M598.00,275.69h-5.1M79.90,269.43h5.1M598.00,269.43h-5.1M79.90,263.18h5.1M598.00,263.18h-5.1M79.90,256.92h5.1M598.00,256.92h-5.1M79.90,250.67h5.1M598.00,250.67h-5.1M79.90,244.42h5.1M598.00,244.42h-5.1M79.90,238.16h5.1M598.00,238.16h-5.1M79.90,231.91h5.1M598.00,231.91h-5.1M79.90,225.65h5.1M598.00,225.65h-5.1M79.90,219.40h10.2M598.00,219.40h-10.2M79.90,213.15h5.1M598.00,213.15h-5.1M79.90,206.89h5.1M598.00,206.89h-5.1M79.90,200.64h5.1M598.00,200.64h-5.1M79.90,194.38h5.1M598.00,194.38h-5.1M79.90,188.13h5.1M598.00,188.13h-5.1M79.90,181.88h5.1M598.00,181.88h-5.1M79.90,175.62h5.1M598.00,175.62h-5.1M79.90,169.37h5.1M598.00,169.37h-5.1M79.90,163.11h5.1M598.00,163.11h-5.1M79.90,156.86h10.2M598.00,156.86h-10.2M79.90,150.61h5.1M598.00,150.61h-5.1M79.90,144.35h5.1M598.00,144.35h-5.1M79.90,138.10h5.1M598.00,138.10h-5.1M79.90,131.84h5.1M598.00,131.84h-5.1M79.90,125.59h5.1M598.00,125.59h-5.1M79.90,119.34h5.1M598.00,119.34h-5.1M79.90,113.08h5.1M598.00,113.08h-5.1M79.90,106.83h5.1M598.00,106.83h-5.1M79.90,100.57h5.1M598.00,100.57h-5.1M79.90,94.32h10.2M598.00,94.32h-10.2M79.90,88.07h5.1M598.00,88.07h-5.1M79.90,81.81h5.1M598.00,81.81h-5.1M79.90,75.56h5.1M598.00,75.56h-5.1M79.90,69.30h5.1M598.00,69.30h-5.1M79.90,63.05h5.1M598.00,63.05h-5.1M79.90,56.80h5.1M598.00,56.80h-5.1M79.90,50.54h5.1M598.00,50.54h-5.1M79.90,44.29h5.1M598.00,44.29h-5.1M79.90,38.03h5.1M598.00,38.03h-5.1M79.90,31.78h10.2M598.00,31.78h-10.2M79.90,25.53h5.1M598.00,25.53h-5.1M79.90,19.27h5.1M598.00,19.27h-5.1M79.90,13.02h5.1M598.00,13.02h-5.1M79.90,6.76h5.1M598.00,6.76h-5.1" stroke="#333" stroke-width="1.2" fill="none"/>
<rect x="79.9" y="0.9" width="518.10" height="406.00" stroke="#222" stroke-width="1.2" fill="none"/>
<text x="43.64 55.99 62.15" y="39.20" font-size="22.2" >0.3</text>
<text x="43.64 55.99 62.15" y="101.70" font-size="22.2" >0.2</text>
<text x="43.64 55.99" y="164.30" font-size="22.2" >0.</text><path d="M0.352,0 L0.272,0 L0.272,0.473 L0.112,0.473 L0.112,0.554 C0.19,0.57 0.25,0.6 0.29,0.688 L0.352,0.688 Z" transform="translate(62.15,164.30) scale(22.2,-22.2)" fill="#000" stroke="#000" stroke-width="0.0158"/>
<text x="36.25 43.64 55.99 62.15" y="226.80" font-size="22.2" >-0.0</text>
<text x="36.25 43.64 55.99" y="289.30" font-size="22.2" >-0.</text><path d="M0.352,0 L0.272,0 L0.272,0.473 L0.112,0.473 L0.112,0.554 C0.19,0.57 0.25,0.6 0.29,0.688 L0.352,0.688 Z" transform="translate(62.15,289.30) scale(22.2,-22.2)" fill="#000" stroke="#000" stroke-width="0.0158"/>
<text x="36.25 43.64 55.99 62.15" y="351.90" font-size="22.2" >-0.2</text>
<text x="36.25 43.64 55.99 62.15" y="406.70" font-size="22.2" >-0.3</text>
<text x="112.56 119.96 132.30 138.47" y="434.50" font-size="22.2" >-0.3</text>
<text x="186.53 193.93 206.27 212.44" y="434.50" font-size="22.2" >-0.2</text>
<text x="260.50 267.90 280.24" y="434.50" font-size="22.2" >-0.</text><path d="M0.352,0 L0.272,0 L0.272,0.473 L0.112,0.473 L0.112,0.554 C0.19,0.57 0.25,0.6 0.29,0.688 L0.352,0.688 Z" transform="translate(286.41,434.50) scale(22.2,-22.2)" fill="#000" stroke="#000" stroke-width="0.0158"/>
<text x="338.17 350.52 356.68" y="434.50" font-size="22.2" >0.0</text>
<text x="412.14 424.49" y="434.50" font-size="22.2" >0.</text><path d="M0.352,0 L0.272,0 L0.272,0.473 L0.112,0.473 L0.112,0.554 C0.19,0.57 0.25,0.6 0.29,0.688 L0.352,0.688 Z" transform="translate(430.65,434.50) scale(22.2,-22.2)" fill="#000" stroke="#000" stroke-width="0.0158"/>
<text x="486.11 498.46 504.62" y="434.50" font-size="22.2" >0.2</text>
<text x="560.08 572.43 578.59" y="434.50" font-size="22.2" >0.3</text>
<text x="338.8" y="457.8" font-size="21.8" text-anchor="middle">Metallicity</text>
<text transform="translate(19.3,203.8) rotate(-90)" x="0" y="0" font-size="22.2" text-anchor="middle">Slope</text>
<text x="534.88" y="94.20" font-size="22.4" >M</text><path d="M0.352,0 L0.272,0 L0.272,0.473 L0.112,0.473 L0.112,0.554 C0.19,0.57 0.25,0.6 0.29,0.688 L0.352,0.688 Z" transform="translate(516.20,94.20) scale(22.4,-22.4)" fill="#000" stroke="#000" stroke-width="0.0156"/>
<text transform="translate(553.14,97.65) scale(0.86,1)" font-size="11" style="stroke-width:0.05px">E</text>
<text x="516.20 534.88" y="150.90" font-size="22.4" >3M</text>
<text transform="translate(553.14,154.35) scale(0.86,1)" font-size="11" style="stroke-width:0.05px">E</text>
<text x="528.66 547.34" y="219.30" font-size="22.4" >0M</text><path d="M0.352,0 L0.272,0 L0.272,0.473 L0.112,0.473 L0.112,0.554 C0.19,0.57 0.25,0.6 0.29,0.688 L0.352,0.688 Z" transform="translate(516.20,219.30) scale(22.4,-22.4)" fill="#000" stroke="#000" stroke-width="0.0156"/>
<text transform="translate(565.60,222.75) scale(0.86,1)" font-size="11" style="stroke-width:0.05px">E</text>
<text x="516.20 528.66 547.34" y="325.60" font-size="22.4" >30M</text>
<text transform="translate(565.60,329.05) scale(0.86,1)" font-size="11" style="stroke-width:0.05px">E</text>
</svg></body></html>
